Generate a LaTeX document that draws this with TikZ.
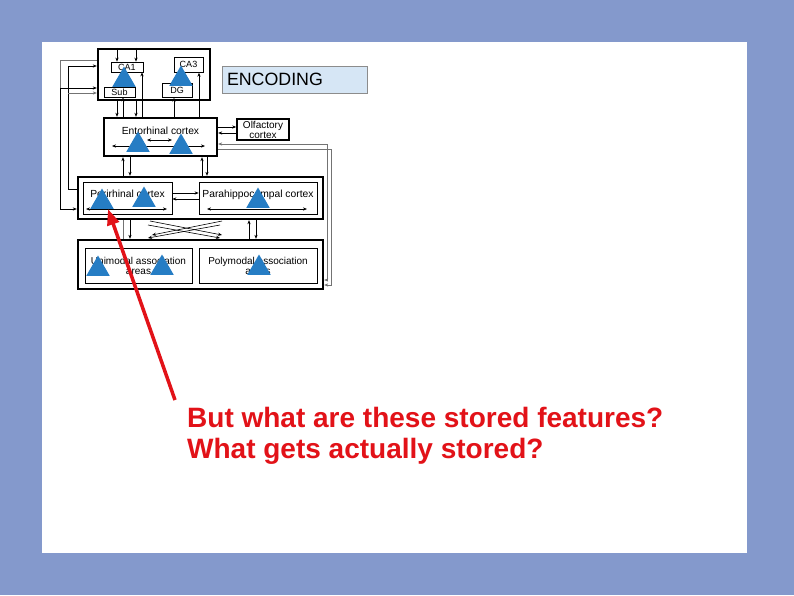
\documentclass[tikz,border=0pt]{standalone}
\usepackage{fontspec}
\setmainfont{Liberation Sans}
\usepackage{xcolor}
\usepackage{tikz}
\usetikzlibrary{arrows.meta, shapes.geometric, positioning}

\definecolor{slidebg}{RGB}{132,153,204}
\definecolor{encfill}{RGB}{214,230,245}
\definecolor{triblue}{RGB}{38,125,196}
\definecolor{qred}{RGB}{226,18,24}

\begin{document}
\begin{tikzpicture}[x=1pt, y=-1pt,
  bigbox/.style={rectangle, draw, line width=2.4pt, fill=white},
  box/.style={rectangle, draw, line width=0.7pt, fill=white, inner sep=1pt,
              font=\fontsize{10}{10}\selectfont},
  small/.style={box, font=\fontsize{9}{9}\selectfont},
  lbl/.style={anchor=north, inner sep=0pt, font=\fontsize{10.3}{10}\selectfont},
  arr/.style={-{Stealth[length=4pt,width=3.2pt]}, line width=0.6pt},
  darr/.style={{Stealth[length=4pt,width=3.2pt]}-{Stealth[length=4pt,width=3.2pt]}, line width=0.6pt},
  fb/.style={line width=0.5pt, black!55},
  tri/.style={regular polygon, regular polygon sides=3, fill=triblue,
              minimum size=27pt, inner sep=0pt, outer sep=0pt},
  redarr/.style={-{Triangle[length=16pt,width=12pt]}, line width=3.5pt, qred}
]
\useasboundingbox (0,0) rectangle (794,595);
\fill[slidebg] (0,0) rectangle (794,595);
\fill[white] (42,42) rectangle (747,553);

% boxes
\node[bigbox, minimum width=112pt, minimum height=51pt] (hip) at (154,74.5) {};
\node[small, minimum width=32pt, minimum height=10pt] (ca1) at (127,67) {CA1};
\node[small, minimum width=29pt, minimum height=15pt, anchor=north] (ca3) at (188.5,57) {CA3};
\node[small, minimum width=31pt, minimum height=10pt] (sub) at (119.5,92) {Sub};
\node[small, minimum width=30pt, minimum height=14pt, anchor=north] (dg) at (177,83) {DG};
\node[bigbox, minimum width=113pt, minimum height=38pt,
      label={[lbl, yshift=-10pt]north:Entorhinal cortex}] (ento) at (160.5,137) {};
\node[box, line width=1.6pt, minimum width=52pt, minimum height=21pt, align=center,
      font=\fontsize{10}{10}\selectfont] (olf) at (263,129.5) {Olfactory\\cortex};
\node[rectangle, draw=black!45, line width=0.6pt, fill=encfill, text width=135pt,
      inner sep=5pt, minimum height=27pt, align=left,
      font=\fontsize{17.8}{20}\selectfont] (enc) at (294.5,79.5) {ENCODING};

\node[bigbox, minimum width=245pt, minimum height=42pt] (par) at (200.5,198) {};
\node[box, minimum width=89pt, minimum height=32pt,
      label={[lbl, yshift=-8pt]north:Perirhinal cortex}] (peri) at (127.5,198) {};
\node[box, minimum width=118pt, minimum height=32pt,
      label={[lbl, yshift=-8pt]north:Parahippocampal cortex}] (phc) at (258,198) {};

\node[bigbox, minimum width=245pt, minimum height=49pt] (assoc) at (200.5,264.5) {};
\node[box, minimum width=107pt, minimum height=35pt, align=center]
  (uni) at (138.5,265.5) {Unimodal association\\areas};
\node[box, minimum width=118pt, minimum height=35pt, align=center]
  (poly) at (258,265.5) {Polymodal association\\areas};

% hippocampus <-> entorhinal
\draw[arr] (hip.north -| 117,0) -- (ca1.north -| 117,0);
\draw[arr] (hip.north -| 136,0) -- (ca1.north -| 136,0);
\draw[arr] (hip.south -| 117,0) -- (ento.north -| 117,0);
\draw[arr] (ento.north -| 123,0) -- (sub.south -| 123,0);
\draw[arr] (hip.south -| 136,0) -- (ento.north -| 136,0);
\draw[arr] (ento.north -| 142,0) -- (ca1.south -| 142,0);
\draw[arr] (ento.north -| 174,0) -- (dg.south -| 174,0);
\draw[arr] (ento.north -| 199,0) -- (ca3.south -| 199,0);
\draw[darr] (112,146) -- (205,146);
\draw[darr] (147,140) -- (172,140);
\draw[arr] (ento.east |- 0,127) -- (olf.west |- 0,127);
\draw[arr] (olf.west |- 0,133) -- (ento.east |- 0,133);

% entorhinal <-> perirhinal / parahippocampal
\draw[arr] (par.north -| 123,0) -- (ento.south -| 123,0);
\draw[arr] (ento.south -| 130,0) -- (par.north -| 130,0);
\draw[arr] (par.north -| 202,0) -- (ento.south -| 202,0);
\draw[arr] (ento.south -| 207,0) -- (par.north -| 207,0);
\draw[darr] (86,209) -- (167,209);
\draw[darr] (207,209) -- (307,209);
\draw[arr] (peri.east |- 0,193) -- (phc.west |- 0,193);
\draw[arr] (phc.west |- 0,199) -- (peri.east |- 0,199);

% perirhinal / parahippocampal <-> association areas
\draw[fb] (par.south -| 123,0) -- (assoc.north -| 123,0);
\draw[arr] (par.south -| 130,0) -- (assoc.north -| 130,0);
\draw[arr] (assoc.north -| 249,0) -- (par.south -| 249,0);
\draw[arr] (par.south -| 256,0) -- (assoc.north -| 256,0);
\draw[arr] (150,221) -- (222,235);
\draw[arr] (220,225) -- (148,238);
\draw[arr] (222,221) -- (152,235);
\draw[arr] (148,225) -- (220,238);

% feedback lines
\draw[fb] (hip.west |- 0,60) -| (60,88);
\draw[darr] (hip.west |- 0,88) -| (60,209) -- (par.west |- 0,209);
\draw[arr] (par.west |- 0,189) -| (68,66) -- (hip.west |- 0,66);
\draw[fb, -{Stealth[length=4pt,width=3.2pt]}] (68,93) -- (hip.west |- 0,93);
\draw[fb, {Stealth[length=4pt,width=3.2pt]}-{Stealth[length=4pt,width=3.2pt]}]
  (ento.east |- 0,144) -| (327,280) -- (assoc.east |- 0,280);
\draw[fb, -{Stealth[length=4pt,width=3.2pt]}]
  (ento.east |- 0,149) -| (331,285) -- (assoc.east |- 0,285);

% markers
\foreach \x/\y [count=\i] in {124/80, 181/79, 138/145, 181/147, 102/202,
                               144/200, 258/201, 98/269, 162/268, 259/268}
  \node[tri] (t\i) at (\x,\y) {};

% question
\node[anchor=north west, inner sep=0pt, align=left, text=qred,
      font=\fontsize{28}{31}\selectfont\bfseries] (q) at (187,407)
  {But what are these stored features?\\What gets actually stored?};
\coordinate (qa) at (175,400);
\coordinate (tip) at (108,209);
\draw[redarr] (qa) -- (tip);
\end{tikzpicture}
\end{document}
